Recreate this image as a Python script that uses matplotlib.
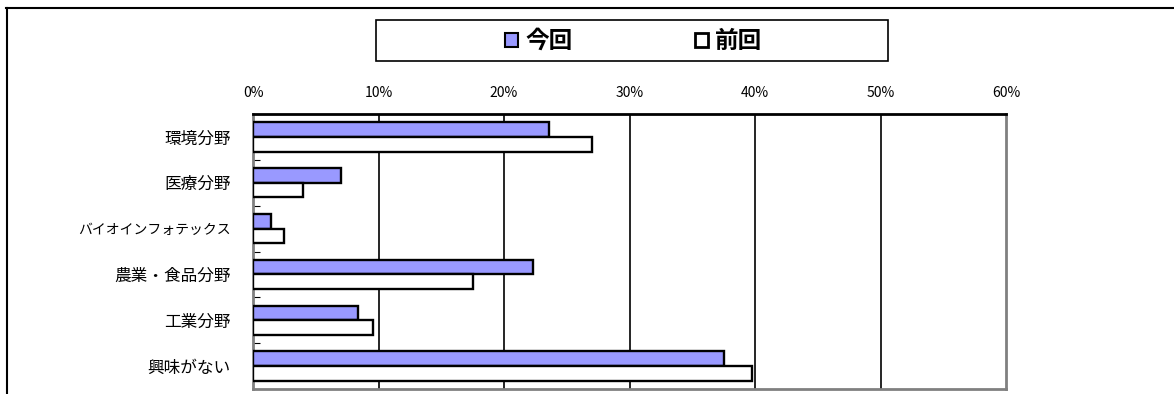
import numpy as np
import matplotlib.pyplot as plt
from matplotlib.patches import Patch, Rectangle
from matplotlib.lines import Line2D

plt.rcParams['font.family'] = ['Noto Sans CJK JP', 'DejaVu Sans']

# データ
categories = ["環境分野", "医療分野", "バイオインフォテックス", "農業・食品分野", "工業分野", "興味がない"]
konkai = [23.6, 7.0, 1.4, 22.3, 8.4, 37.5]   # 今回
zenkai = [27.0, 4.0, 2.5, 17.5, 9.6, 39.8]   # 前回
series_names = ["今回", "前回"]
xticks = [0, 10, 20, 30, 40, 50, 60]
xticklabels = ["0%", "10%", "20%", "30%", "40%", "50%", "60%"]

fig = plt.figure(figsize=(11.74, 3.94), dpi=100)
ax = fig.add_axes([253/1174, 1-389/394, 753/1174, 275/394])

y = np.arange(len(categories))
h = 0.32
ax.barh(y - h/2, konkai, height=h, color="#9999FF", edgecolor="black", linewidth=1.7, zorder=3)
ax.barh(y + h/2, zenkai, height=h, color="white", edgecolor="black", linewidth=1.7, zorder=3)

ax.set_xlim(0, 60)
ax.set_ylim(len(categories) - 0.5, -0.5)

ax.xaxis.tick_top()
ax.set_xticks(xticks)
ax.set_xticklabels(xticklabels, fontsize=10)
ax.tick_params(axis="x", length=0, pad=10)
for xv in xticks[1:-1]:
    ax.axvline(xv, color="black", linewidth=1.2, zorder=1)

# 区切りの目盛り(内側)
ax.set_yticks(np.arange(len(categories) + 1) - 0.5)
ax.set_yticklabels([])
ax.tick_params(axis="y", which="major", direction="in", length=5, color="black")
ax.set_yticks(y, minor=True)
ax.set_yticklabels(categories, minor=True, fontsize=12)
ax.tick_params(axis="y", which="minor", length=0, pad=16)
for lab in ax.get_yticklabels(minor=True):
    if lab.get_text() == "バイオインフォテックス":
        lab.set_fontsize(10)

for s in ["left", "right", "bottom"]:
    ax.spines[s].set_color("#808080")
    ax.spines[s].set_linewidth(2)
ax.spines["top"].set_color("black")
ax.spines["top"].set_linewidth(2)

# 凡例
fig.patches.append(Rectangle((376/1174, 1-61/394), 512/1174, 41/394, transform=fig.transFigure,
                             facecolor="white", edgecolor="black", linewidth=1.2))
handles = [Patch(facecolor="#9999FF", edgecolor="black", linewidth=1.5),
           Patch(facecolor="white", edgecolor="black", linewidth=2)]
fig.legend(handles, series_names, ncol=2, loc="center", bbox_to_anchor=(634/1174, 1-41/394),
           frameon=False, prop={"size": 17, "weight": "bold"}, handlelength=0.55, handleheight=0.55,
           handletextpad=0.3, columnspacing=5.2)

# 外枠
fig.add_artist(Line2D([6/1174, 1], [1-8/394, 1-8/394], transform=fig.transFigure, color="black", linewidth=1.5))
fig.add_artist(Line2D([7/1174, 7/1174], [0, 1-8/394], transform=fig.transFigure, color="black", linewidth=1.5))

fig.savefig("out.png", dpi=100)
